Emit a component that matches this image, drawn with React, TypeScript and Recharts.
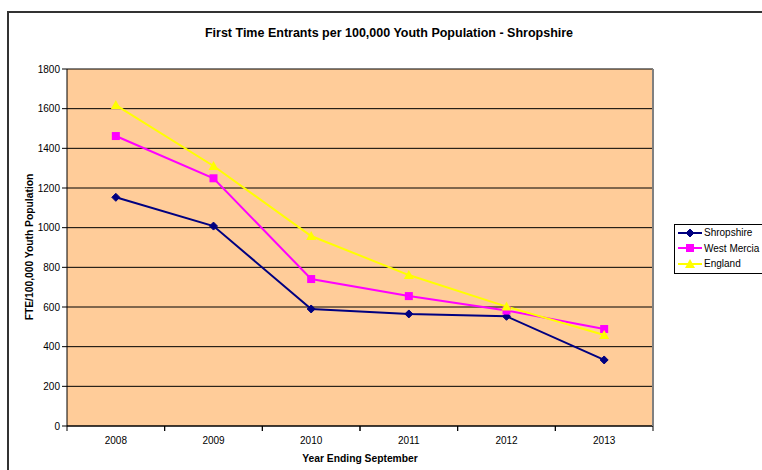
import { LineChart, Line, XAxis, YAxis, CartesianGrid } from "recharts";

const years = ["2008", "2009", "2010", "2011", "2012", "2013"];
const shropshire = [1153, 1008, 590, 565, 553, 333];
const westMercia = [1462, 1249, 741, 655, 582, 489];
const england = [1618, 1311, 958, 761, 602, 459];
const yTicks = [0, 200, 400, 600, 800, 1000, 1200, 1400, 1600, 1800];

const data = years.map((year, i) => ({
  year,
  shropshire: shropshire[i],
  westMercia: westMercia[i],
  england: england[i],
}));

const W = 762;
const H = 470;
const Y_AXIS_W = 60;
const X_AXIS_H = 30;
const margin = { top: 69, right: 108, bottom: 14, left: 7 };
const plotW = W - margin.left - Y_AXIS_W - margin.right - 1;
const band = plotW / years.length;

const FONT = '"Liberation Sans", Arial, sans-serif';

function Diamond({ cx, cy, color }: any) {
  if (cx == null || cy == null) return null;
  const r = 4;
  return (
    <polygon
      points={`${cx},${cy - r} ${cx + r},${cy} ${cx},${cy + r} ${cx - r},${cy}`}
      fill={color}
      stroke={color}
    />
  );
}

function Square({ cx, cy, color }: any) {
  if (cx == null || cy == null) return null;
  return <rect x={cx - 4} y={cy - 4} width={8} height={8} fill={color} />;
}

function Triangle({ cx, cy, color }: any) {
  if (cx == null || cy == null) return null;
  return (
    <polygon
      points={`${cx},${cy - 5} ${cx + 5},${cy + 4} ${cx - 5},${cy + 4}`}
      fill={color}
    />
  );
}

const series = [
  { key: "shropshire", name: "Shropshire", color: "#000080", Shape: Diamond },
  { key: "westMercia", name: "West Mercia", color: "#FF00FF", Shape: Square },
  { key: "england", name: "England", color: "#FFFF00", Shape: Triangle },
];

function XTick(props: any) {
  const { x, y, payload } = props;
  const half = band / 2;
  return (
    <g>
      <line x1={x - half} x2={x - half} y1={y} y2={y + 5} stroke="#000" />
      <line x1={x + half} x2={x + half} y1={y} y2={y + 5} stroke="#000" />
      <text
        x={x}
        y={y + 14}
        textAnchor="middle"
        dominantBaseline="central"
        fontSize={10}
        fill="#000"
        fontFamily={FONT}
      >
        {payload.value}
      </text>
    </g>
  );
}

function LegendBox() {
  return (
    <div
      style={{
        position: "absolute",
        left: 674,
        top: 224,
        width: 100,
        border: "1px solid #000",
        background: "#fff",
        padding: "0 0 1px 0",
        fontFamily: FONT,
        fontSize: 10,
        color: "#000",
      }}
    >
      {series.map((s) => (
        <div
          key={s.key}
          style={{ display: "flex", alignItems: "center", height: 15.5 }}
        >
          <svg width={24} height={12} style={{ marginLeft: 3 }}>
            <line x1={0} x2={24} y1={6} y2={6} stroke={s.color} strokeWidth={2} />
            <s.Shape cx={12} cy={6} color={s.color} />
          </svg>
          <span style={{ marginLeft: 2, whiteSpace: "nowrap" }}>{s.name}</span>
        </div>
      ))}
    </div>
  );
}

export default function App() {
  return (
    <div
      style={{
        position: "absolute",
        left: 0,
        top: 0,
        width: W,
        height: H,
        overflow: "hidden",
        background: "#fff",
        fontFamily: FONT,
      }}
    >
      <div
        style={{
          position: "absolute",
          left: 7,
          top: 11,
          width: 820,
          height: 520,
          borderTop: "2px solid #333",
          borderLeft: "2px solid #333",
        }}
      />
      <div style={{ position: "absolute", left: 0, top: 0 }}>
        <LineChart width={W} height={H} data={data} margin={margin}>
          <CartesianGrid vertical={false} stroke="#000" fill="#FFCC99" />
          <XAxis
            dataKey="year"
            height={X_AXIS_H}
            interval={0}
            padding={{ left: band / 2, right: band / 2 }}
            tickLine={false}
            tickSize={0}
            tickMargin={0}
            axisLine={{ stroke: "#000" }}
            tick={(p: any) => <XTick {...p} />}
          />
          <YAxis
            width={Y_AXIS_W}
            domain={[0, 1800]}
            ticks={yTicks}
            interval={0}
            tickSize={5}
            tickMargin={2}
            tickLine={{ stroke: "#000" }}
            axisLine={{ stroke: "#000" }}
            tick={{ fill: "#000", fontSize: 10, fontFamily: FONT }}
          />
          <YAxis
            yAxisId="r"
            orientation="right"
            width={1}
            domain={[0, 1]}
            tick={false}
            tickLine={false}
            axisLine={{ stroke: "#808080", strokeWidth: 2 }}
          />
          {series.map((s) => (
            <Line
              key={s.key}
              type="linear"
              dataKey={s.key}
              name={s.name}
              stroke={s.color}
              strokeWidth={2}
              isAnimationActive={false}
              dot={(p: any) => <s.Shape key={p.index} cx={p.cx} cy={p.cy} color={s.color} />}
              activeDot={false}
            />
          ))}
        </LineChart>
      </div>
      <LegendBox />
      <div
        style={{
          position: "absolute",
          left: 0,
          top: 26,
          width: 778,
          textAlign: "center",
          fontSize: 12.5,
          fontWeight: "bold",
          lineHeight: "14px",
          color: "#000",
        }}
      >
        First Time Entrants per 100,000 Youth Population - Shropshire
      </div>
      <div
        style={{
          position: "absolute",
          left: 67,
          top: 452,
          width: 586,
          textAlign: "center",
          fontSize: 10.3,
          fontWeight: "bold",
          lineHeight: "14px",
          color: "#000",
        }}
      >
        Year Ending September
      </div>
      <div
        style={{
          position: "absolute",
          left: -70,
          top: 240,
          width: 200,
          textAlign: "center",
          fontSize: 10.3,
          fontWeight: "bold",
          lineHeight: "14px",
          color: "#000",
          transform: "rotate(-90deg)",
        }}
      >
        FTE/100,000 Youth Population
      </div>
    </div>
  );
}
